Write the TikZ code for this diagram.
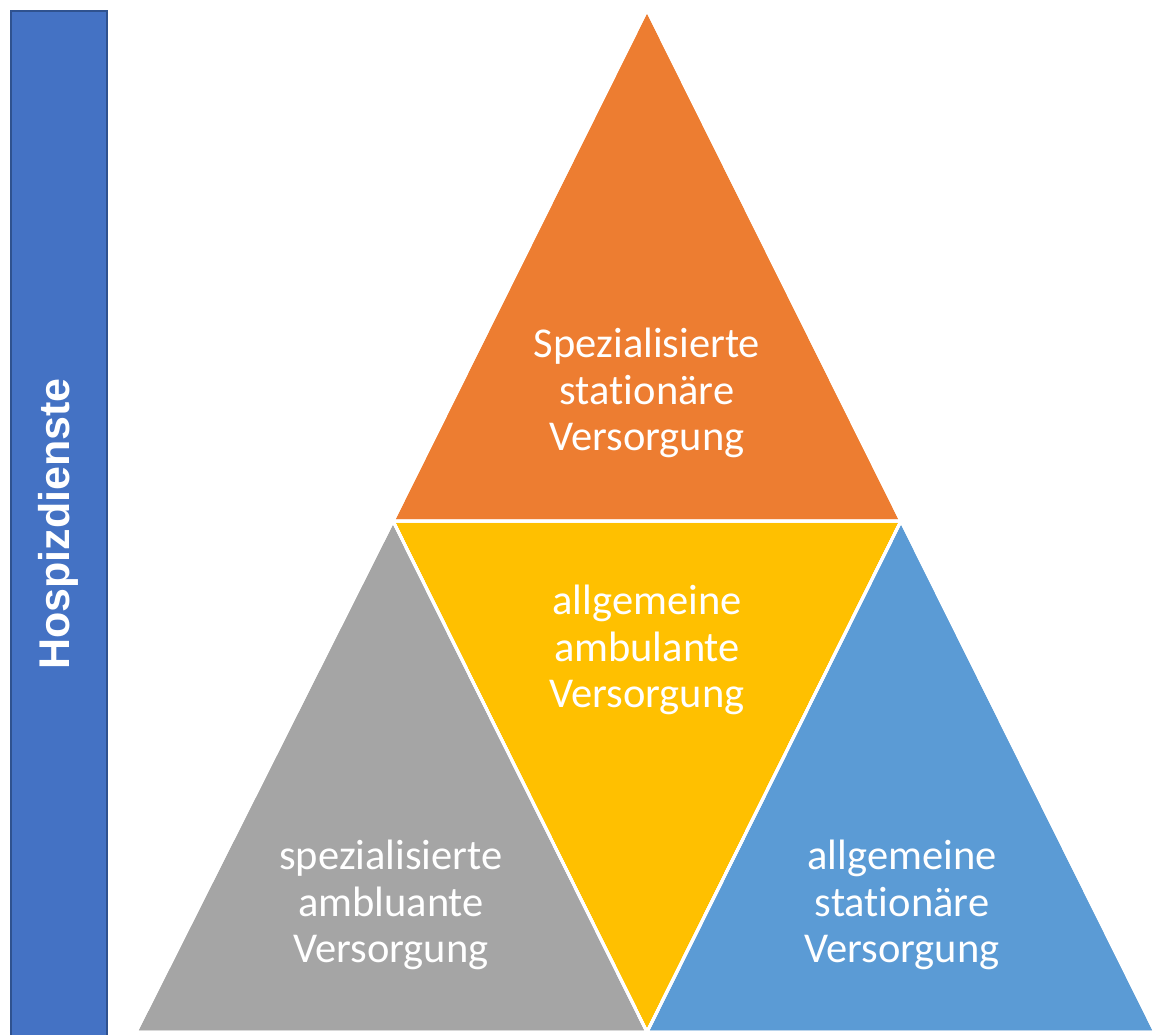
\documentclass[tikz,border=0pt]{standalone}
\usepackage{fontspec}
\setmainfont{Carlito}[Ligatures=NoCommon]
\newfontfamily\barfont{Liberation Sans}
\definecolor{cOrange}{HTML}{ED7D31}
\definecolor{cYellow}{HTML}{FFC000}
\definecolor{cGray}{HTML}{A5A5A5}
\definecolor{cBlue}{HTML}{5B9BD5}
\definecolor{cBar}{HTML}{4472C4}
\definecolor{cBarEdge}{HTML}{2F528F}
\tikzset{
  tri/.style={draw=white, line width=3pt, line join=miter},
  lbl/.style={text=white, align=center, font=\fontsize{42.5}{46.5}\selectfont, inner sep=0pt},
}
\begin{document}
\begin{tikzpicture}[x=1pt, y=-1pt]
\useasboundingbox (0,0) rectangle (1153,1035);
% corner coordinates
\coordinate (top) at (647,10);
\coordinate (ml) at (393,521);
\coordinate (mr) at (901,521);
\coordinate (bl) at (136,1032);
\coordinate (bm) at (647,1032);
\coordinate (br) at (1155,1032);
% side bar
\node[draw=cBarEdge, line width=2pt, fill=cBar, minimum width=96pt, minimum height=1030pt, anchor=north west, inner sep=0pt] (bar) at (10,10) {};
\node[rotate=90, text=white, font=\barfont\bfseries\fontsize{43}{50}\selectfont, inner sep=0pt] (barlbl) at (58,524) {Hospizdienste};
% triangles
\fill[cOrange, tri] (top) -- (mr) -- (ml) -- cycle;
\fill[cYellow, tri] (ml) -- (mr) -- (bm) -- cycle;
\fill[cGray, tri] (ml) -- (bm) -- (bl) -- cycle;
\fill[cBlue, tri] (mr) -- (br) -- (bm) -- cycle;
\draw[tri] (top) -- (mr) -- (ml) -- cycle;
\draw[tri] (ml) -- (mr) -- (bm) -- cycle;
\draw[tri] (ml) -- (bm) -- (bl) -- cycle;
\draw[tri] (mr) -- (br) -- (bm) -- cycle;
% labels
\node[lbl] (lorange) at (647,393) {Spezialisierte\\station\"are\\Versorgung};
\node[lbl] (lyellow) at (647,650) {allgemeine\\ambulante\\Versorgung};
\node[lbl] (lgray) at (391,905) {spezialisierte\\ambluante\\Versorgung};
\node[lbl] (lblue) at (902,905) {allgemeine\\station\"are\\Versorgung};
\end{tikzpicture}
\end{document}
